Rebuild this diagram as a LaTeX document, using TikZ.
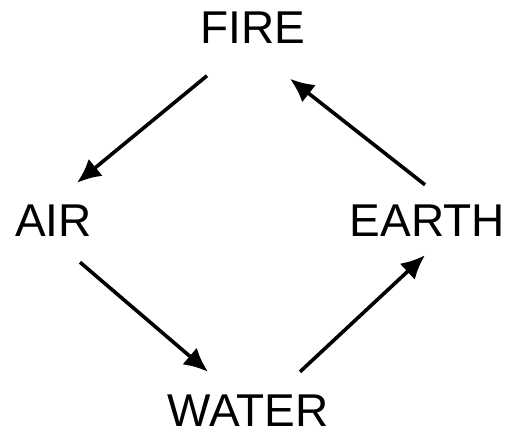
\documentclass[tikz,border=0pt]{standalone}
\usepackage{fontspec}
\setmainfont{Liberation Sans}
\usetikzlibrary{arrows.meta}

\begin{document}
\begin{tikzpicture}[x=0.5pt,y=-0.5pt,
    element/.style={inner sep=0pt,font=\fontsize{23}{27}\selectfont},
    cycle/.style={line width=1.8pt,-{Latex[length=12pt,width=11pt]}}]
\useasboundingbox (0,0) rectangle (507,434);
\node[element] (fire) at (253,27.5) {FIRE};
\node[element] (air) at (53.5,221) {AIR};
\node[element] (earth) at (427.5,221) {EARTH};
\node[element] (water) at (248,411) {WATER};
\draw[cycle] ([shift={(-46,32)}]fire.south) -- ([shift={(23.5,-22)}]air.north);
\draw[cycle] ([shift={(26.5,25)}]air.south) -- ([shift={(-40,-23)}]water.north);
\draw[cycle] ([shift={(52,-23)}]water.north) -- ([shift={(-2.5,18)}]earth.south);
\draw[cycle] ([shift={(-2.5,-20)}]earth.north) -- ([shift={(37,35)}]fire.south);
\end{tikzpicture}
\end{document}
